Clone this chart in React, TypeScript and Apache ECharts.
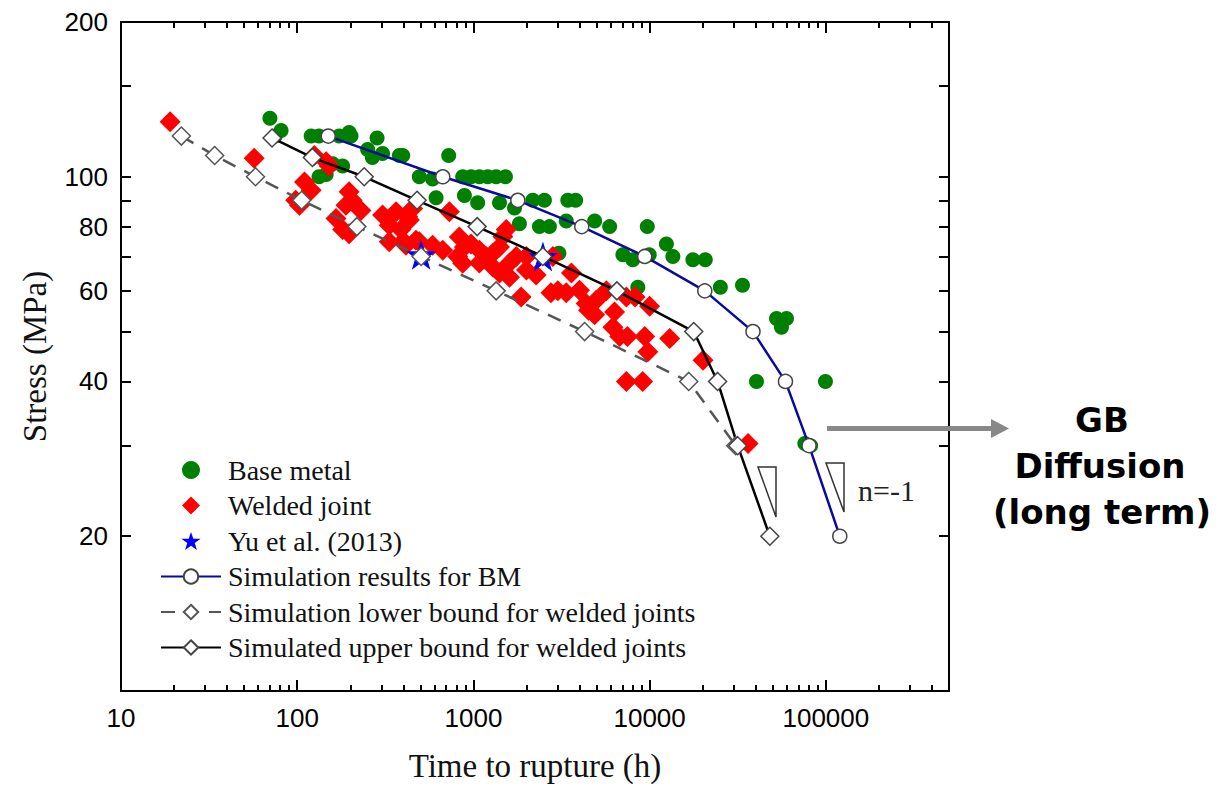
import React, { useEffect, useRef } from "react";
import * as echarts from "echarts";

// ---- Tick values ----
const xMajorTicks = [10, 100, 1000, 10000, 100000];
const xMinorTicks = [
  20, 30, 40, 50, 60, 70, 80, 90,
  200, 300, 400, 500, 600, 700, 800, 900,
  2000, 3000, 4000, 5000, 6000, 7000, 8000, 9000,
  20000, 30000, 40000, 50000, 60000, 70000, 80000, 90000,
  200000, 300000, 400000,
];
const yTickLabels = [20, 40, 60, 80, 100, 200];
const yTicks = [20, 30, 40, 50, 60, 70, 80, 90, 100, 150, 200];

// ---- Data: [time to rupture (h), stress (MPa)] ----
const baseMetal: [number, number][] = [
  [70, 130], [81, 123], [75, 120], [120, 120], [133, 120], [173, 120], [197, 122], [202, 120],
  [284, 119], [251, 113], [305, 111], [380, 110], [267, 109], [159, 106], [181, 105], [146, 101], [133, 100],
  [397, 110], [724, 110], [493, 100], [587, 99], [614, 91], [869, 100], [970, 100], [1081, 100],
  [1206, 100], [1345, 100], [1520, 100], [889, 92], [1057, 89], [1406, 89], [1711, 87], [2173, 90],
  [2530, 90], [3433, 90], [3802, 90], [1824, 81], [2370, 80], [2700, 80], [3365, 82], [4875, 82],
  [5930, 80], [9700, 80], [12450, 74], [7050, 70.5], [8030, 69], [9950, 70.5], [13550, 70], [17600, 69],
  [3055, 71], [8570, 61], [20700, 69], [25200, 61], [33650, 61.5], [52500, 53], [59800, 53], [56000, 51],
  [40400, 40], [99500, 40], [76000, 30.3], [82000, 30],
];

const weldedJoint: [number, number][] = [
  [19, 128], [57, 108.6], [125, 110], [146, 107], [152, 105], [110, 97.7], [120, 94.2], [98, 90], [103, 88],
  [197, 93.5], [205, 90], [189, 88], [230, 86], [166, 83], [181, 79], [197, 77.5], [305, 84.3], [364, 85.5],
  [424, 83.6], [452, 86.8], [333, 80.5], [388, 79], [333, 74.8], [414, 73.6], [472, 75.3], [433, 82.4],
  [400, 75], [493, 74.8], [587, 73.6], [731, 85.5], [670, 72], [832, 76.4], [889, 73], [970, 74], [814, 70],
  [869, 67.9], [1081, 72], [1081, 68], [1181, 70], [1290, 71], [1406, 73], [1535, 79], [1470, 76.5],
  [1290, 66.8], [1406, 65], [1603, 68], [1603, 63.8], [1750, 70], [2000, 70], [2000, 65.9], [2270, 64.4],
  [1866, 58.4], [2825, 70], [3600, 65], [4000, 60.2], [4363, 56.7], [3013, 60], [3365, 59.5], [2754, 59.5],
  [4500, 55], [6190, 51], [10000, 56], [8270, 58.4], [7380, 58.4], [4975, 57.5], [4875, 53.9],
  [6325, 54.6], [5680, 60], [6760, 48.9], [7480, 48.9], [9380, 48.9], [9770, 45.7], [13000, 48.5],
  [7380, 40], [9130, 40], [20100, 44], [36200, 30.3],
];

const yuEtAl: [number, number][] = [
  [505, 70.5], [2480, 70],
];

const simBM: [number, number][] = [
  [150, 120], [670, 100], [1786, 90], [4120, 80], [9380, 70], [20560, 60], [38600, 50], [59000, 40],
  [80300, 30], [120000, 20],
];

const simLower: [number, number][] = [
  [22, 120], [34, 110], [58, 100], [106, 90], [218, 80], [505, 70], [1346, 60], [4276, 50], [16670, 40],
  [30800, 30],
];

const simUpper: [number, number][] = [
  [72, 119], [122, 109], [240, 100], [479, 90], [1050, 80], [2477, 70], [6516, 60], [17800, 50],
  [24300, 40], [31600, 30], [48100, 20],
];

const SERIF = "'Liberation Serif', 'Times New Roman', serif";
const SANS = "'Liberation Sans', Arial, sans-serif";
const STAR =
  "path://M50,0 L61.8,35.1 L98.9,35.1 L69.1,56.7 L80.3,91.9 L50,70.1 L19.7,91.9 L30.9,56.7 L1.1,35.1 L38.2,35.1 Z";
const DIAMOND = "path://M50,0 L100,50 L50,100 L0,50 Z";

const fmt = (v: number) => String(Math.round(v));

export default function App() {
  const ref = useRef<HTMLDivElement>(null);

  useEffect(() => {
    if (!ref.current) return;
    const chart = echarts.init(ref.current, null, { renderer: "svg" });

    const axisLine = { show: true, onZero: false, lineStyle: { color: "#000", width: 2 } };
    const tickStyle = { color: "#000", width: 2 };
    const xBase = { type: "log", logBase: 10, min: 10, max: 500000, gridIndex: 0, splitLine: { show: false }, minorTick: { show: false } };
    const yBase = { type: "log", logBase: 10, min: 10, max: 200, gridIndex: 0, splitLine: { show: false }, minorTick: { show: false } };

    const option: any = {
      animation: false,
      backgroundColor: "#fff",
      grid: { left: 121, right: 270, top: 22, bottom: 97, containLabel: false, outerBoundsMode: "none" },
      xAxis: [
        {
          ...xBase,
          position: "bottom",
          axisLine,
          axisTick: { show: true, inside: true, length: 11, customValues: xMajorTicks, lineStyle: tickStyle },
          axisLabel: { show: true, customValues: xMajorTicks, formatter: fmt, color: "#000", fontSize: 26, fontFamily: SANS, margin: 14 },
          name: "Time to rupture (h)",
          nameLocation: "middle",
          nameGap: 58,
          nameTextStyle: { fontFamily: SERIF, fontSize: 33, color: "#111" },
        },
        {
          ...xBase,
          position: "bottom",
          axisLine: { show: false, onZero: false },
          axisTick: { show: true, inside: true, length: 6, customValues: xMinorTicks, lineStyle: tickStyle },
          axisLabel: { show: false },
        },
        {
          ...xBase,
          position: "top",
          axisLine,
          axisTick: { show: true, inside: true, length: 11, customValues: xMajorTicks, lineStyle: tickStyle },
          axisLabel: { show: false },
        },
        {
          ...xBase,
          position: "top",
          axisLine: { show: false, onZero: false },
          axisTick: { show: true, inside: true, length: 6, customValues: xMinorTicks, lineStyle: tickStyle },
          axisLabel: { show: false },
        },
      ],
      yAxis: [
        {
          ...yBase,
          position: "left",
          axisLine,
          axisTick: { show: true, inside: true, length: 10, customValues: yTicks, lineStyle: tickStyle },
          axisLabel: { show: true, customValues: yTickLabels, formatter: fmt, color: "#000", fontSize: 26, fontFamily: SANS, margin: 13 },
          name: "Stress (MPa)",
          nameLocation: "middle",
          nameGap: 70,
          nameRotate: 90,
          nameTextStyle: { fontFamily: SERIF, fontSize: 33, color: "#111" },
        },
        {
          ...yBase,
          position: "right",
          axisLine,
          axisTick: { show: true, inside: true, length: 10, customValues: yTicks, lineStyle: tickStyle },
          axisLabel: { show: false },
        },
      ],
      legend: {
        orient: "vertical",
        left: 155,
        top: 450,
        itemWidth: 60,
        itemHeight: 18,
        itemGap: 5.5,
        selectedMode: false,
        data: [
          { name: "Base metal", icon: "circle" },
          { name: "Welded joint", icon: DIAMOND },
          { name: "Yu et al. (2013)", icon: STAR },
          "Simulation results for BM",
          "Simulation lower bound for welded joints",
          "Simulated upper bound for welded joints",
        ],
        textStyle: { fontFamily: SERIF, fontSize: 28, color: "#111", lineHeight: 30, padding: [0, 0, 0, 2] },
      },
      series: [
        {
          name: "Base metal",
          type: "scatter",
          data: baseMetal,
          symbol: "circle",
          symbolSize: 15,
          itemStyle: { color: "#008000", opacity: 1 },
          emphasis: { disabled: true },
        },
        {
          name: "Welded joint",
          type: "scatter",
          data: weldedJoint,
          symbol: "diamond",
          symbolSize: 21,
          itemStyle: { color: "#ff0000", opacity: 1 },
          emphasis: { disabled: true },
        },
        {
          name: "Yu et al. (2013)",
          type: "scatter",
          data: yuEtAl,
          symbol: STAR,
          symbolSize: 30,
          itemStyle: { color: "#0000ff", opacity: 1 },
          emphasis: { disabled: true },
        },
        {
          name: "Simulation results for BM",
          type: "line",
          data: simBM,
          symbol: "circle",
          symbolSize: 14,
          showAllSymbol: true,
          lineStyle: { color: "#0a0a9c", width: 2.5 },
          itemStyle: { color: "#ffffff", borderColor: "#444", borderWidth: 1.5 },
          emphasis: { disabled: true },
        },
        {
          name: "Simulation lower bound for welded joints",
          type: "line",
          data: simLower,
          symbol: "diamond",
          symbolSize: 18,
          showAllSymbol: true,
          lineStyle: { color: "#555", width: 2.5, type: [14, 10] },
          itemStyle: { color: "#ffffff", borderColor: "#555", borderWidth: 1.5 },
          emphasis: { disabled: true },
        },
        {
          name: "Simulated upper bound for welded joints",
          type: "line",
          data: simUpper,
          symbol: "diamond",
          symbolSize: 18,
          showAllSymbol: true,
          lineStyle: { color: "#000", width: 2.5 },
          itemStyle: { color: "#ffffff", borderColor: "#444", borderWidth: 1.5 },
          emphasis: { disabled: true },
        },
      ],
      graphic: [
        {
          type: "polygon",
          z: 100,
          shape: { points: [[758, 467], [776, 467], [776, 517]] },
          style: { fill: "none", stroke: "#333", lineWidth: 1.5 },
        },
        {
          type: "polygon",
          z: 100,
          shape: { points: [[826, 463], [844, 463], [844, 512]] },
          style: { fill: "none", stroke: "#333", lineWidth: 1.5 },
        },
        {
          type: "text",
          z: 100,
          x: 858,
          y: 490,
          style: { text: "n=-1", fontFamily: SERIF, fontSize: 30, fill: "#222", align: "left", verticalAlign: "middle" },
        },
        {
          type: "line",
          z: 100,
          shape: { x1: 827, y1: 428.5, x2: 993, y2: 428.5 },
          style: { stroke: "#888", lineWidth: 5 },
        },
        {
          type: "polygon",
          z: 100,
          shape: { points: [[991, 419], [991, 438], [1009, 428.5]] },
          style: { fill: "#888" },
        },
        {
          type: "text",
          z: 100,
          x: 1102,
          y: 420,
          style: { text: "GB", fontFamily: "'DejaVu Sans', sans-serif", fontWeight: "bold", fontSize: 34, fill: "#000", align: "center", verticalAlign: "middle" },
        },
        {
          type: "text",
          z: 100,
          x: 1100,
          y: 466,
          style: { text: "Diffusion", fontFamily: "'DejaVu Sans', sans-serif", fontWeight: "bold", fontSize: 34, fill: "#000", align: "center", verticalAlign: "middle" },
        },
        {
          type: "text",
          z: 100,
          x: 1102,
          y: 512,
          style: { text: "(long term)", fontFamily: "'DejaVu Sans', sans-serif", fontWeight: "bold", fontSize: 34, fill: "#000", align: "center", verticalAlign: "middle" },
        },
      ],
    };

    chart.setOption(option);
    return () => chart.dispose();
  }, []);

  return <div ref={ref} style={{ width: 1219, height: 788, position: "absolute", left: 0, top: 0, background: "#fff" }} />;
}
